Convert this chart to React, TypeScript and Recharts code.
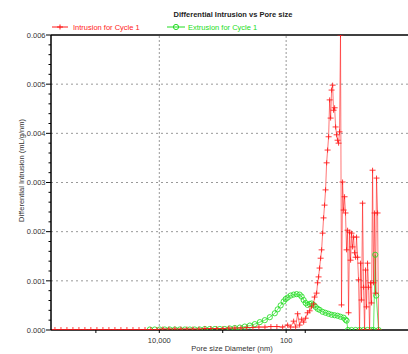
import React from 'react';
import { LineChart, Line, XAxis, YAxis, ReferenceLine } from 'recharts';

const FONT = '"Liberation Sans", Arial, Helvetica, sans-serif';

// Intrusion for Cycle 1 (pore diameter nm, differential intrusion mL/g/nm)
const intrusionDiameter = [
  442000, 355000, 286000, 230000, 185000, 149000, 120000, 96300, 77400, 62300,
  50100, 40300, 32400, 26000, 20900, 16800, 13600, 10900, 8780, 7060,
  5680, 4560, 3670, 2950, 2370, 1910, 1540, 1240, 994, 800,
  643, 517, 416, 334, 269, 216, 174, 140,
  113.6, 94.7, 85.0, 76.2, 70.9, 65.9, 61.3, 57.0, 53.0, 49.3,
  45.9, 42.6, 39.7, 36.9, 35.6, 33.1, 31.9, 30.8, 29.7, 28.6,
  27.6, 26.6, 25.7, 24.8, 23.9, 23.0, 22.2, 21.4, 20.6, 19.9,
  19.2, 18.5, 17.9, 17.2, 16.6, 16.0, 15.45, 14.9, 14.4, 13.9,
  13.4, 12.9, 12.4, 12.0, 11.6, 11.15, 10.75, 10.37, 10.0, 9.64,
  9.30, 8.97, 8.65, 8.34, 8.04, 7.76, 7.48, 7.22, 6.96, 6.71,
  6.47, 6.24, 6.02, 5.80, 5.60, 5.40, 5.21, 5.02, 4.84, 4.67,
  4.50, 4.34, 4.19, 4.04, 3.89, 3.76, 3.62, 3.49,
];
const intrusionValue = [
  0.00001, 0.00001, 0.00001, 0.00001, 0.00001, 0.00001, 0.00001, 0.00001, 0.00001, 0.00001,
  0.00001, 0.00001, 0.00001, 0.00001, 0.00001, 0.00001, 0.00001, 0.00001, 0.00002, 0.00002,
  0.00002, 0.00002, 0.00002, 0.00002, 0.00002, 0.00003, 0.00003, 0.00003, 0.00003, 0.00004,
  0.00004, 0.00004, 0.00005, 0.00005, 0.00006, 0.00006, 0.00007, 0.00007,
  0.00006, 0.0001, 0.00006, 0.00018, 0.00006, 0.00033, 0.0001, 0.00022, 0.00016, 0.00024,
  0.00035, 0.00039, 0.00047, 0.00053, 0.00067, 0.00075, 0.00096, 0.00108, 0.00126, 0.00146,
  0.00163, 0.00197, 0.00228, 0.00254, 0.00285, 0.0034, 0.00366, 0.00393, 0.00468, 0.00431,
  0.00488, 0.00498, 0.00447, 0.00452, 0.00413, 0.00397, 0.00386, 0.0038, 0.00403, 0.006,
  0.00051, 0.00301, 0.00244, 0.00271, 0.00238, 0.00163, 0.00203, 0.00035, 0.00199, 0.00142,
  0.00197, 0.00169, 0.00189, 0.00157, 0.00148, 0.00189, 0.00148, 0.00102, 0, 0.00136,
  0.00061, 0.00258, 0.00087, 0, 0.00122, 0.00047, 0.00136, 0.00087, 0, 0.00096,
  0.00055, 0.00325, 0.00096, 0.00238, 0.00075, 0.00309, 0.00238, 0,
];

// Extrusion for Cycle 1
const extrusionDiameter = [
  14100, 11800, 9820, 8190, 6830, 5700, 4750, 3960, 3300, 2760, 2300,
  1920, 1600, 1330, 1110, 927,
  773, 645, 538, 449, 374, 312, 260, 217, 181, 151,
  136, 122, 109.5, 101.9, 94.7, 85.0, 76.2, 68.3,
  61.3, 57.0, 53.0, 49.3, 45.9, 42.6, 39.7, 36.9, 34.3, 31.9, 29.7,
  26.6, 23.9, 21.4, 19.2, 17.2, 15.45, 13.9, 12.4, 11.6, 11.15,
  10.6, 9.30, 8.04, 6.96, 6.02, 5.21, 4.50, 4.19,
  3.94, 3.80, 3.49,
];
const extrusionValue = [
  0.00001, 0.00001, 0.00001, 0.00001, 0.00001, 0.00001, 0.00001, 0.00001, 0.00001, 0.00001, 0.00001,
  0.00002, 0.00002, 0.00002, 0.00002, 0.00002,
  0.00003, 0.00004, 0.00005, 0.00007, 0.00009, 0.00012, 0.00016, 0.0002, 0.00026, 0.00034,
  0.00042, 0.0005, 0.00058, 0.00063, 0.00066, 0.0007, 0.00072, 0.00073,
  0.00072, 0.00068, 0.00061, 0.00055, 0.00051, 0.00053, 0.00054, 0.00051, 0.00047, 0.00043, 0.00041,
  0.00037, 0.00035, 0.00033, 0.00031, 0.0003, 0.00029, 0.00027, 0.00025, 0.00021, 0.00019,
  0, 0, 0, 0, 0, 0, 0, 0,
  0.00153, 0.0007, 0,
];

const yTicks = [
  0, 0.0002, 0.0004, 0.0006, 0.0008, 0.001, 0.0012, 0.0014, 0.0016, 0.0018,
  0.002, 0.0022, 0.0024, 0.0026, 0.0028, 0.003, 0.0032, 0.0034, 0.0036, 0.0038,
  0.004, 0.0042, 0.0044, 0.0046, 0.0048, 0.005, 0.0052, 0.0054, 0.0056, 0.0058, 0.006,
];
const yMajorTicks = [0, 0.001, 0.002, 0.003, 0.004, 0.005, 0.006];
const yMajorLabels = ['0.000', '0.001', '0.002', '0.003', '0.004', '0.005', '0.006'];
const yGridValues = [0.001, 0.002, 0.003, 0.004, 0.005];

const xTicks = [100000, 10000, 1000, 100, 50];
const xTickLabels = ['', '10,000', '', '100', ''];
const xGridValues = [10000, 100];

const title = 'Differential Intrusion vs Pore size';
const intrusionName = 'Intrusion for Cycle 1';
const extrusionName = 'Extrusion for Cycle 1';
const xLabel = 'Pore size Diameter (nm)';
const yLabel = 'Differential Intrusion (mL/g/nm)';

const RED = '#ff1a1a';
const GREEN = '#22dd22';

const intrusionData = intrusionDiameter
  .slice(0, Math.min(intrusionDiameter.length, intrusionValue.length))
  .map((d, i) => ({ d, v: intrusionValue[i] }));
const extrusionData = extrusionDiameter
  .slice(0, Math.min(extrusionDiameter.length, extrusionValue.length))
  .map((d, i) => ({ d, v: extrusionValue[i] }));

const CrossDot = (props: any) => {
  const { cx, cy, index } = props;
  if (cx == null || cy == null || isNaN(cx) || isNaN(cy)) return <g key={`cx${index}`} />;
  return (
    <path
      key={`cx${index}`}
      d={`M${cx - 3},${cy}H${cx + 3}M${cx},${cy - 2.5}V${cy + 2.5}`}
      stroke={RED}
      strokeOpacity={0.85}
      strokeWidth={1}
      fill="none"
    />
  );
};

const CircleDot = (props: any) => {
  const { cx, cy, index } = props;
  if (cx == null || cy == null || isNaN(cx) || isNaN(cy)) return <g key={`cc${index}`} />;
  return (
    <circle
      key={`cc${index}`}
      cx={cx}
      cy={cy}
      r={2.6}
      stroke={GREEN}
      strokeOpacity={0.85}
      strokeWidth={1}
      fill="none"
    />
  );
};

const YTick = (props: any) => {
  const { x, y, payload } = props;
  const v = payload.value;
  const mi = yMajorTicks.findIndex((m) => Math.abs(m - v) < 1e-9);
  const major = mi >= 0;
  return (
    <g>
      <line x1={x - (major ? 5 : 2.5)} x2={x} y1={y} y2={y} stroke="#000" strokeWidth={1} />
      {major && (
        <text x={x - 5.5} y={y} dy={2.7} textAnchor="end" fontSize={7.5} fontFamily={FONT} fill="#333">
          {yMajorLabels[mi]}
        </text>
      )}
    </g>
  );
};

const XTick = (props: any) => {
  const { x, y, payload } = props;
  const i = xTicks.findIndex((t) => t === payload.value);
  const label = i >= 0 ? xTickLabels[i] : '';
  return (
    <text x={x} y={y} dy={7.5} textAnchor="middle" fontSize={7.5} fontFamily={FONT} fill="#333">
      {label}
    </text>
  );
};

const XLabel = (props: any) => {
  const vb = props.viewBox || {};
  const cx = (vb.x ?? 51) + (vb.width ?? 362) / 2;
  const cy = (vb.y ?? 330) + 21;
  return (
    <text x={cx} y={cy} textAnchor="middle" fontSize={7.5} fontFamily={FONT} fill="#333">
      {xLabel}
    </text>
  );
};

const YLabel = (props: any) => {
  const vb = props.viewBox || {};
  const cx = 21;
  const cy = (vb.y ?? 35) + (vb.height ?? 295) / 2 - 12;
  return (
    <text
      x={cx}
      y={cy}
      transform={`rotate(-90 ${cx} ${cy})`}
      textAnchor="middle"
      dominantBaseline="central"
      fontSize={7.5}
      fontFamily={FONT}
      fill="#333"
    >
      {yLabel}
    </text>
  );
};

export default function App() {
  return (
    <div
      style={{
        position: 'absolute',
        left: 0,
        top: 0,
        width: 408,
        height: 354,
        overflow: 'hidden',
        background: '#fff',
      }}
    >
      <LineChart width={420} height={354} margin={{ top: 35, right: 7, bottom: 0, left: 0 }}>
        <XAxis
          dataKey="d"
          type="number"
          scale="log"
          domain={[1, 510000]}
          allowDataOverflow
          reversed
          ticks={xTicks}
          interval={0}
          tick={<XTick />}
          tickSize={3}
          tickLine={{ stroke: '#000', strokeWidth: 1 }}
          axisLine={{ stroke: '#000', strokeWidth: 1.5 }}
          height={24}
          label={<XLabel />}
        />
        <YAxis
          type="number"
          domain={[0, 0.006]}
          allowDataOverflow
          ticks={yTicks}
          interval={0}
          tick={<YTick />}
          tickLine={false}
          tickSize={0}
          tickMargin={0}
          axisLine={{ stroke: '#000', strokeWidth: 1.5 }}
          width={51}
          label={<YLabel />}
        />
        {yGridValues.map((v) => (
          <ReferenceLine key={`gy${v}`} y={v} stroke="#999" strokeDasharray="2 3" strokeWidth={1} />
        ))}
        {xGridValues.map((v) => (
          <ReferenceLine key={`gx${v}`} x={v} stroke="#999" strokeDasharray="2 2" strokeWidth={1} />
        ))}
        <ReferenceLine y={0.006} stroke="#000" strokeWidth={1.5} />
        <Line
          data={extrusionData}
          dataKey="v"
          type="linear"
          stroke={GREEN}
          strokeOpacity={0.7}
          strokeWidth={1}
          dot={CircleDot}
          activeDot={false}
          isAnimationActive={false}
          name={extrusionName}
        />
        <Line
          data={intrusionData}
          dataKey="v"
          type="linear"
          stroke={RED}
          strokeOpacity={0.6}
          strokeWidth={1}
          dot={CrossDot}
          activeDot={false}
          isAnimationActive={false}
          name={intrusionName}
        />
      </LineChart>
      <svg
        width={408}
        height={34}
        style={{ position: 'absolute', left: 0, top: 0, pointerEvents: 'none' }}
      >
        <text x={233} y={16.5} textAnchor="middle" fontSize={7.5} fontWeight="bold" fontFamily={FONT} fill="#222">
          {title}
        </text>
        <line x1={52} x2={68} y1={27} y2={27} stroke={RED} strokeWidth={1} />
        <path d="M57,27H63M60,24.5V29.5" stroke={RED} strokeWidth={1} />
        <text x={73} y={29.7} fontSize={7.5} fontFamily={FONT} fill={RED}>
          {intrusionName}
        </text>
        <line x1={167} x2={185} y1={27} y2={27} stroke={GREEN} strokeWidth={1} />
        <circle cx={176} cy={27} r={2.6} stroke={GREEN} strokeWidth={1} fill="none" />
        <text x={188} y={29.7} fontSize={7.5} fontFamily={FONT} fill={GREEN}>
          {extrusionName}
        </text>
      </svg>
    </div>
  );
}
